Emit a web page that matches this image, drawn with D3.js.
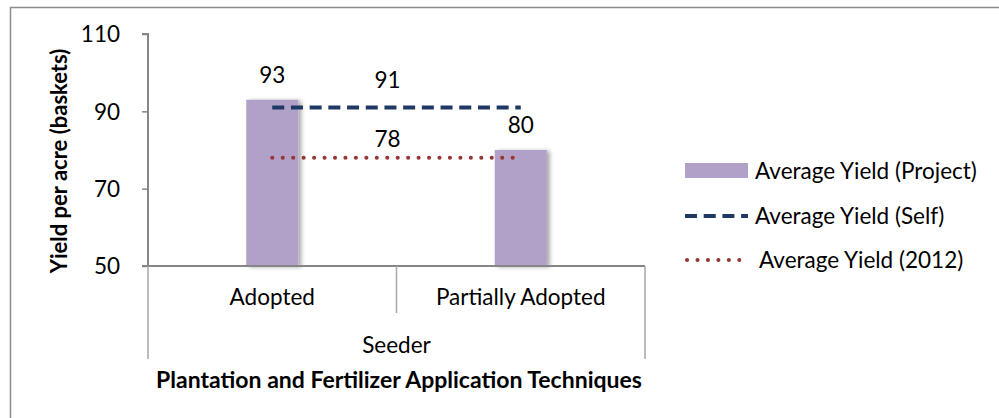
<!DOCTYPE html>
<html lang="en">
<head>
  <meta charset="UTF-8" />
  <title>Yield per acre</title>
  <script src="https://d3js.org/d3.v7.min.js"></script>
  <style>
    body { margin: 0; background: #fff; font-family: 'Lato', sans-serif; }
    svg text { fill: #000; }
  </style>
</head>
<body>
  <div id="chart"></div>
  <script>
    // --- Data ---
    const categories = ["Adopted", "Partially Adopted"];
    const groupLabel = "Seeder";
    const projectYield = [93, 80];
    const selfYield = [91, 91];
    const yield2012 = [78, 78];
    const yTicks = [50, 70, 90, 110];
    const seriesNames = ["Average Yield (Project)", "Average Yield (Self)", "Average Yield (2012)"];

    const W = 999, H = 418;
    const fs = 22.5;
    const barColor = "#b1a0c7", selfColor = "#1f3864", oldColor = "#953735", axisColor = "#868686";

    const svg = d3.select("#chart").append("svg")
      .attr("width", W).attr("height", H)
      .style("font-family", "Lato, sans-serif");

    // --- shadow for bars ---
    const defs = svg.append("defs");
    const f = defs.append("filter").attr("id", "shadow")
      .attr("x", "-20%").attr("y", "-10%").attr("width", "160%").attr("height", "120%");
    f.append("feDropShadow").attr("dx", 3).attr("dy", 1).attr("stdDeviation", 2)
      .attr("flood-color", "#000").attr("flood-opacity", 0.35);

    // --- outer frame (only top & left visible) ---
    svg.append("path")
      .attr("d", `M10.5,${H} V7.5 H${W}`)
      .attr("fill", "none").attr("stroke", "#8c8c8c").attr("stroke-width", 1.5);

    // --- scales ---
    const x = d3.scaleBand().domain(categories).range([148, 645]);
    const y = d3.scaleLinear().domain([50, 110]).range([266, 34]);
    const cx = d => x(d) + x.bandwidth() / 2;
    const barW = 52;

    // --- bars ---
    svg.append("g").selectAll("rect")
      .data(categories)
      .join("rect")
      .attr("x", d => cx(d) - barW / 2)
      .attr("y", (d, i) => y(projectYield[i]))
      .attr("width", barW)
      .attr("height", (d, i) => y(50) - y(projectYield[i]))
      .attr("fill", barColor)
      .attr("filter", "url(#shadow)");

    // --- y axis ---
    const yAxis = svg.append("g").attr("transform", "translate(148,0)")
      .call(d3.axisLeft(y).tickValues(yTicks).tickSize(6).tickPadding(22));
    yAxis.select(".domain").attr("stroke", axisColor).attr("stroke-width", 2)
      .attr("d", `M-6,${y(110)}H0V${y(50)}`);
    yAxis.selectAll(".tick line").attr("stroke", axisColor).attr("stroke-width", 1.5);
    yAxis.selectAll(".tick text").attr("font-size", fs).attr("font-family", "Lato, sans-serif")
      .attr("fill", "#000").attr("dy", "0.35em");

    // --- category axis ---
    const cat = svg.append("g");
    cat.append("line").attr("x1", 142).attr("x2", 645).attr("y1", y(50)).attr("y2", y(50))
      .attr("stroke", axisColor).attr("stroke-width", 2);
    const edges = [x.range()[0], x(categories[1]), x.range()[1]];
    cat.selectAll("line.sep")
      .data(edges)
      .join("line").attr("class", "sep")
      .attr("x1", d => d).attr("x2", d => d)
      .attr("y1", y(50))
      .attr("y2", (d, i) => i === 1 ? 313 : 359)
      .attr("stroke", "#a6a6a6").attr("stroke-width", 1.5);
    cat.selectAll("text.cat")
      .data(categories)
      .join("text").attr("class", "cat")
      .attr("x", d => cx(d)).attr("y", 305)
      .attr("text-anchor", "middle").attr("font-size", fs)
      .text(d => d);
    cat.append("text")
      .attr("x", (x.range()[0] + x.range()[1]) / 2).attr("y", 353)
      .attr("text-anchor", "middle").attr("font-size", fs)
      .text(groupLabel);

    // --- lines ---
    const line = d3.line().x((d, i) => cx(categories[i])).y(d => y(d));
    svg.append("path").datum(selfYield)
      .attr("d", line).attr("fill", "none")
      .attr("stroke", selfColor).attr("stroke-width", 4)
      .attr("stroke-dasharray", "12 6.7");
    svg.append("path").datum(yield2012)
      .attr("d", line).attr("fill", "none")
      .attr("stroke", oldColor).attr("stroke-width", 4).attr("stroke-linecap", "round")
      .attr("stroke-dasharray", "0.1 10.35");

    // --- data labels ---
    const labels = svg.append("g").attr("font-size", fs).attr("text-anchor", "middle");
    categories.forEach((c, i) => {
      labels.append("text").attr("x", cx(c)).attr("y", y(projectYield[i]) - 17).text(projectYield[i]);
    });
    const midX = (cx(categories[0]) + cx(categories[1])) / 2 - 9;
    labels.append("text").attr("x", midX).attr("y", y(selfYield[0]) - 19).text(selfYield[0]);
    labels.append("text").attr("x", midX).attr("y", y(yield2012[0]) - 11).text(yield2012[0]);

    // --- axis titles ---
    svg.append("text")
      .attr("transform", "rotate(-90)")
      .attr("x", -161).attr("y", 67)
      .attr("text-anchor", "middle").attr("font-size", 22).attr("font-weight", "bold")
      .text("Yield per acre (baskets)");
    svg.append("text")
      .attr("x", 399).attr("y", 388)
      .attr("text-anchor", "middle").attr("font-size", 23).attr("font-weight", "bold")
      .text("Plantation and Fertilizer Application Techniques");

    // --- legend ---
    const legend = svg.append("g").attr("transform", "translate(685,0)");
    const rows = [171, 216, 260];
    legend.append("rect").attr("x", 0).attr("y", rows[0] - 8).attr("width", 63).attr("height", 15)
      .attr("fill", barColor);
    legend.append("line").attr("x1", 0).attr("x2", 63).attr("y1", rows[1]).attr("y2", rows[1])
      .attr("stroke", selfColor).attr("stroke-width", 4).attr("stroke-dasharray", "12 6.7");
    legend.append("line").attr("x1", 2).attr("x2", 58).attr("y1", rows[2]).attr("y2", rows[2])
      .attr("stroke", oldColor).attr("stroke-width", 4).attr("stroke-linecap", "round")
      .attr("stroke-dasharray", "0.1 10.35");
    legend.selectAll("text")
      .data(seriesNames)
      .join("text")
      .attr("x", (d, i) => i === 2 ? 74 : 70)
      .attr("y", (d, i) => rows[i])
      .attr("dy", "0.35em").attr("font-size", fs)
      .text(d => d);
  </script>
</body>
</html>
